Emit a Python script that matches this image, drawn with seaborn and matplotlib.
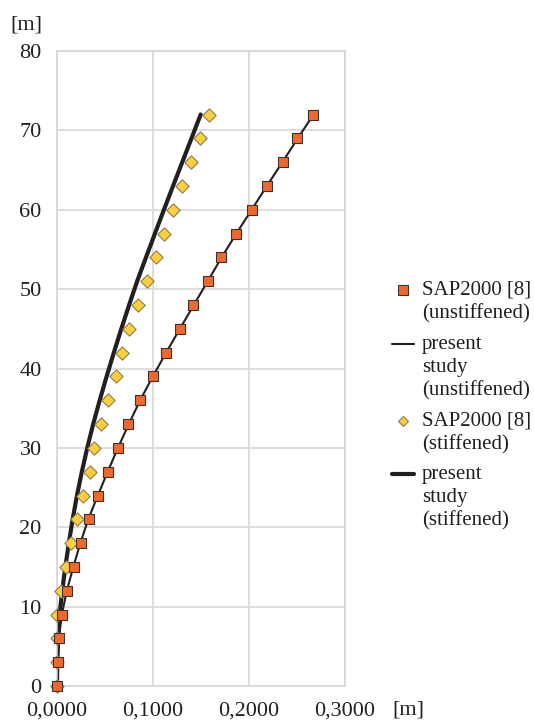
import numpy as np
import matplotlib
matplotlib.use("Agg")
import matplotlib.pyplot as plt
import seaborn as sns
from matplotlib.lines import Line2D
from matplotlib.legend_handler import HandlerLine2D

## Data ##
height = [0, 3, 6, 9, 12, 15, 18, 21, 24, 27, 30, 33, 36, 39, 42, 45, 48, 51, 54, 57, 60, 63, 66, 69, 72]

sap_unstiffened = [0.0, 0.0008, 0.0018, 0.0048, 0.0104, 0.0175, 0.0245, 0.033, 0.043, 0.053, 0.0633,
                   0.0744, 0.0865, 0.1004, 0.114, 0.128, 0.142, 0.157, 0.1708, 0.1865, 0.2031,
                   0.2184, 0.2351, 0.2504, 0.2667]
present_unstiffened = [0.0, 0.0009, 0.002, 0.0050, 0.0102, 0.0170, 0.0243, 0.0326, 0.0425, 0.0528, 0.0635,
                       0.0748, 0.0866, 0.0998, 0.1137, 0.1280, 0.1425, 0.1570, 0.1715, 0.1868, 0.2028,
                       0.2186, 0.2348, 0.2508, 0.2672]

sap_stiffened = [0.0, 0.0, 0.0003, 0.0, 0.0037, 0.0095, 0.0148, 0.021, 0.0272, 0.034, 0.0387,
                 0.0462, 0.0531, 0.0611, 0.0677, 0.0754, 0.0844, 0.0934, 0.1028, 0.1115, 0.1205,
                 0.1306, 0.1393, 0.1494, 0.1583]
present_stiffened = [0.0, 0.0003, 0.0011, 0.0027, 0.0054, 0.0087, 0.0123, 0.0163, 0.0208, 0.0259, 0.0315,
                     0.0377, 0.0445, 0.0517, 0.0592, 0.0670, 0.0751, 0.0835, 0.0927, 0.1020, 0.1114,
                     0.1209, 0.1305, 0.1401, 0.1497]

x_ticks = [0.0, 0.1, 0.2, 0.3]
x_tick_labels = ["0,0000", "0,1000", "0,2000", "0,3000"]
y_ticks = [0, 10, 20, 30, 40, 50, 60, 70, 80]

legend_labels = ["SAP2000 [8]\n(unstiffened)",
                 "present\nstudy\n(unstiffened)",
                 "SAP2000 [8]\n(stiffened)",
                 "present\nstudy\n(stiffened)"]

## Style ##
sns.set_style("whitegrid")
plt.rcParams['font.family'] = ['Liberation Serif', 'DejaVu Serif']
plt.rcParams['font.size'] = 15

ink = '#231f20'
grid_c = '#d4d4d4'
orange = '#f2682c'
yellow = '#ffcf3a'

fig = plt.figure(figsize=(5.34, 7.2), dpi=100)
ax = fig.add_axes([57 / 534, 34 / 720, 288 / 534, 635 / 720])

# present study lines
sns.lineplot(x=present_stiffened, y=height, ax=ax, color=ink, linewidth=3.0,
             estimator=None, sort=False, zorder=2)
sns.lineplot(x=present_unstiffened, y=height, ax=ax, color=ink, linewidth=1.5,
             estimator=None, sort=False, zorder=2)

# SAP2000 points
sns.scatterplot(x=sap_stiffened, y=height, ax=ax, marker='D', s=46, color=yellow,
                edgecolor='#8a7c58', linewidth=0.8, zorder=3, clip_on=False)
sns.scatterplot(x=sap_unstiffened, y=height, ax=ax, marker='s', s=62, color=orange,
                edgecolor='#3a3330', linewidth=0.8, zorder=4, clip_on=False)

ax.set_xlim(0, 0.3)
ax.set_ylim(0, 80)
ax.set_xticks(x_ticks)
ax.set_xticklabels(x_tick_labels)
ax.set_yticks(y_ticks)
ax.set_xlabel('')
ax.set_ylabel('')
ax.grid(True, color=grid_c, linewidth=1.1)
ax.tick_params(axis='both', which='major', direction='out', length=7, width=1.1,
               color=grid_c, labelcolor=ink, labelsize=16, pad=4)
for sp in ax.spines.values():
    sp.set_color(grid_c)
    sp.set_linewidth(1.1)

fig.text(26 / 534, 1 - 25 / 720, '[m]', ha='center', va='center', fontsize=16, color=ink)
fig.text(408 / 534, 1 - 710 / 720, '[m]', ha='center', va='center', fontsize=16, color=ink)


## Legend: put the marker on the first line of each label
class FirstLineHandler(HandlerLine2D):
    def __init__(self, lift, **kw):
        super().__init__(**kw)
        self.lift = lift

    def create_artists(self, legend, orig_handle, xdescent, ydescent, width, height, fontsize, trans):
        artists = super().create_artists(legend, orig_handle, xdescent, ydescent,
                                         width, height, fontsize, trans)
        for a in artists:
            a.set_ydata(np.asarray(a.get_ydata(), dtype=float) + self.lift * fontsize)
        return artists


handles = [
    Line2D([], [], linestyle='none', marker='s', markersize=7.5, markerfacecolor=orange,
           markeredgecolor='#3a3330', markeredgewidth=0.8),
    Line2D([], [], color=ink, linewidth=1.5),
    Line2D([], [], linestyle='none', marker='D', markersize=5.5, markerfacecolor=yellow,
           markeredgecolor='#8a7c58', markeredgewidth=0.8),
    Line2D([], [], color=ink, linewidth=3.0),
]
pitch = 1.13
hmap = {h: FirstLineHandler((lab.count('\n')) / 2 * pitch)
        for h, lab in zip(handles, legend_labels)}

leg = fig.legend(handles, legend_labels, handler_map=hmap, loc='upper left',
                 bbox_to_anchor=(392 / 534, 1 - 281 / 720), frameon=False,
                 borderaxespad=0, borderpad=0, handlelength=1.05, handletextpad=0.4,
                 labelspacing=0.52, fontsize=15)
for t in leg.get_texts():
    t.set_color(ink)
    t.set_linespacing(1.3)

fig.savefig('out.png', dpi=100)
